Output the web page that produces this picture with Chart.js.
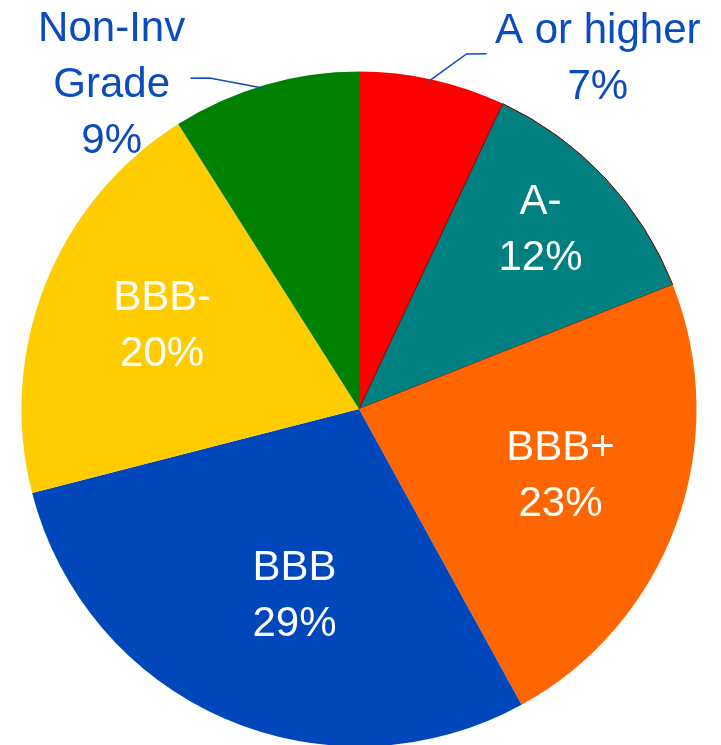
<!DOCTYPE html>
<html>
<head>
<meta charset="utf-8">
<script src="https://cdn.jsdelivr.net/npm/chart.js@4.4.1/dist/chart.umd.min.js"></script>
<style>
  html, body { margin: 0; padding: 0; background: #ffffff; overflow: hidden; }
  #wrap { width: 721px; height: 745px; overflow: hidden; }
  canvas { display: block; }
</style>
</head>
<body>
<div id="wrap"><canvas id="c" width="721" height="760"></canvas></div>
<script>
// ---- data ----
const categories = ['A or higher', 'A-', 'BBB+', 'BBB', 'BBB-', ['Non-Inv', 'Grade']];
const values = [7, 12, 23, 29, 20, 9];
const sliceColors = ['#FF0000', '#008080', '#FF6600', '#0047BB', '#FFCC00', '#008000'];

// ---- label placement (polar: fraction of radius, degrees clockwise from 12 o'clock) ----
const labelPlace = [
  { r: 1.262, a: 34.1, outside: true },
  { r: 0.762, a: 44.9 },
  { r: 0.626, a: 107.5 },
  { r: 0.578, a: 199.3 },
  { r: 0.636, a: 293.5 },
  { r: 1.215, a: 322.9, outside: true }
];
const leaders = [
  [[0.994, 12.1], [1.099, 16.85], [1.118, 19.75]],
  [[0.993, 343.3], [1.076, 335.7], [1.100, 333.0]]
];
const outerTextColor = '#0a4bbd';
const LINE_GAP = 56;

const labelPlugin = {
  id: 'sliceLabels',
  afterDatasetsDraw(chart) {
    const ctx = chart.ctx;
    const meta = chart.getDatasetMeta(0);
    const arc0 = meta.data[0];
    const cx = arc0.x, cy = arc0.y, R = arc0.outerRadius;
    const pt = (frac, deg) => {
      const a = (deg - 90) * Math.PI / 180;
      return [cx + frac * R * Math.cos(a), cy + frac * R * Math.sin(a)];
    };
    ctx.save();
    // leader lines
    ctx.strokeStyle = outerTextColor;
    ctx.lineWidth = 1.5;
    leaders.forEach(pts => {
      ctx.beginPath();
      pts.forEach((p, k) => {
        const [x, y] = pt(p[0], p[1]);
        if (k === 0) ctx.moveTo(x, y); else ctx.lineTo(x, y);
      });
      ctx.stroke();
    });
    ctx.font = '42px "Liberation Sans", Arial, sans-serif';
    ctx.textAlign = 'center';
    ctx.textBaseline = 'alphabetic';
    categories.forEach((cat, i) => {
      const lines = [].concat(cat, values[i] + '%');
      const p = labelPlace[i];
      const [x, y] = pt(p.r, p.a);
      ctx.fillStyle = p.outside ? outerTextColor : '#FFFFFF';
      const n = lines.length;
      lines.forEach((t, k) => {
        const yc = y + (k - (n - 1) / 2) * LINE_GAP;
        ctx.fillText(t, x, yc + 15);
      });
    });
    ctx.restore();
  }
};

new Chart(document.getElementById('c'), {
  type: 'pie',
  data: {
    labels: categories,
    datasets: [{
      data: values,
      backgroundColor: sliceColors,
      borderColor: ['#FF0000', '#7a0000', '#FF6600', '#0047BB', '#FFCC00', '#008000'],
      borderWidth: [0, 1, 0, 0, 0, 0]
    }]
  },
  options: {
    responsive: false,
    animation: false,
    layout: { padding: { left: 21, right: 24, top: 71, bottom: 13 } },
    plugins: {
      legend: { display: false },
      tooltip: { enabled: false }
    }
  },
  plugins: [labelPlugin]
});
</script>
</body>
</html>
